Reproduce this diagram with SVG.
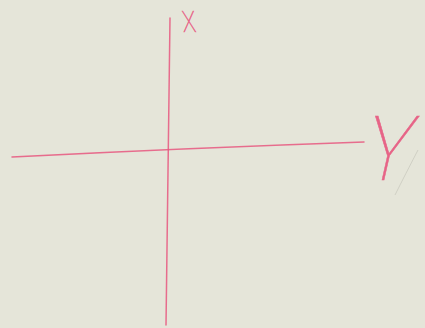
<svg xmlns="http://www.w3.org/2000/svg" width="425" height="328" viewBox="0 0 425 328">
<style>
.axis{fill:none;stroke:#e8577f;stroke-width:1.5;stroke-linecap:round;opacity:0.85}
.lbl{fill:#e8577f;stroke:#e8577f;stroke-width:0.6;font-family:Roboto,"DejaVu Sans",sans-serif;font-weight:100;opacity:0.9}
</style>
<rect x="0" y="0" width="425" height="328" fill="#e5e5d9"/>
<g id="connectors">
<path id="x-axis" class="axis" d="M170,18 Q168,170 166,325"/>
<path id="y-axis" class="axis" d="M12,157 Q190,148 364,142"/>
<path d="M418,150 Q405,175 395,195" fill="none" stroke="#b8b8ad" stroke-width="0.8" opacity="0.6"/>
</g>
<g id="label-x">
<text class="lbl" x="0" y="11.4" font-size="32" text-anchor="middle" transform="matrix(0.70,0,0.088,0.92,189,21)">X</text>
</g>
<g id="label-y">
<text class="lbl" x="0" y="26.1" font-size="90" text-anchor="middle" transform="matrix(0.87,0,-0.225,1,389,154)">Y</text>
</g>
</svg>
